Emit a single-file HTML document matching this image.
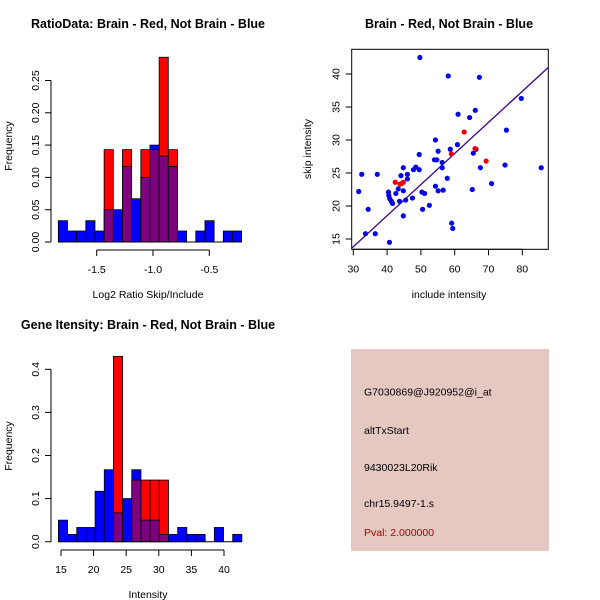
<!DOCTYPE html>
<html><head><meta charset="utf-8"><style>
body{margin:0;background:#fff}
svg{display:block;font-family:"Liberation Sans",sans-serif}
.t{font-weight:bold;font-size:12.5px}
.ax{font-size:10.5px}
.lab{font-size:10.5px}
</style></head><body>
<svg id="s" width="600" height="600" xmlns="http://www.w3.org/2000/svg"></svg>
<script>
// Ratio histogram data
const ratioBlue=[0.033,0.017,0.017,0.033,0.017,0.05,0.05,0.117,0.067,0.1,0.15,0.133,0.117,0.017,0,0.017,0.033,0,0.017,0.017];
const ratioRed=[0,0,0,0,0,0.143,0,0.143,0,0.143,0.143,0.286,0.143,0,0,0,0,0,0,0];
const ratioStart=-1.841, ratioBin=0.0814;
const ratioXTicks=[-1.5,-1.0,-0.5];
const ratioYTicks=[0,0.05,0.10,0.15,0.20,0.25];
// Intensity histogram data
const intBlue=[0.05,0.017,0.033,0.033,0.117,0.167,0.067,0.1,0.167,0.05,0.05,0.017,0.017,0.033,0.017,0.017,0,0.033,0,0.017];
const intRed=[0,0,0,0,0,0,0.43,0,0.143,0.143,0.143,0.143,0,0,0,0,0,0,0,0];
const intStart=14.6, intBin=1.407;
const intXTicks=[15,20,25,30,35,40];
const intYTicks=[0,0.1,0.2,0.3,0.4];
// Scatter data
const blueX=[49.7,58.1,67.3,79.7,61.0,66.1,64.4,75.3,54.3,60.8,58.7,55.1,66.3,65.5,49.5,54.0,54.7,56.3,56.3,67.6,74.9,85.6,44.8,48.5,47.8,49.5,46.0,44.1,46.0,32.5,37.1,57.8,70.9,54.3,65.2,43.3,44.8,55.1,56.6,40.4,42.6,50.3,51.1,40.5,31.6,40.8,41.3,41.6,43.7,45.5,47.5,52.5,50.5,34.4,44.8,59.1,59.4,33.6,36.5,40.7];
const blueY=[42.5,39.7,39.5,36.3,33.9,34.5,33.4,31.5,30.0,29.3,28.6,28.3,28.6,28.0,27.8,27.0,27.0,26.6,25.8,25.8,26.2,25.8,25.8,25.9,25.5,25.5,24.8,24.6,24.1,24.8,24.8,24.2,23.4,23.0,22.5,22.6,22.3,22.3,22.4,22.1,21.9,22.1,21.9,21.6,22.2,21.1,20.7,20.4,20.7,20.9,21.2,20.1,19.5,19.5,18.5,17.4,16.6,15.8,15.8,14.5];
const redX=[42.4,43.8,44.8,44.3,59.0,62.8,69.3,66.0];
const redY=[23.6,23.3,23.6,23.4,27.9,31.2,26.8,28.7];
const scXTicks=[30,40,50,60,70,80];
const scYTicks=[15,20,25,30,35,40];
const fitSlope=0.471, fitIntercept=-0.3;

const S=document.getElementById('s');
const NS='http://www.w3.org/2000/svg';
function mk(tag,attrs,parent){const e=document.createElementNS(NS,tag);for(const k in attrs)e.setAttribute(k,attrs[k]);(parent||S).appendChild(e);return e;}
function txt(x,y,s,cls,extra){const e=mk('text',Object.assign({x:x,y:y,'class':cls||'ax','text-anchor':'middle'},extra||{}));e.textContent=s;return e;}

function hist(cfg){
  const g=mk('g',{});
  
  
  const xs=v=>cfg.x0+(v-cfg.xv0)*cfg.xk;
  const ys=v=>cfg.y0-v*cfg.yk;
  for(let i=0;i<cfg.blue.length;i++){
    const a=xs(cfg.start+i*cfg.bin), b=xs(cfg.start+(i+1)*cfg.bin);
    const bv=cfg.blue[i], rv=cfg.red[i], m=Math.min(bv,rv);
    const mx=Math.max(bv,rv);
    if(mx<=0) continue;
    const top=bv>=rv?'#0000ff':'#ff0000';
    let r=mk('rect',{x:a,y:ys(mx),width:b-a,height:ys(0)-ys(mx),fill:top,stroke:'#000','stroke-width':0.8},g);
    
    
    if(m>0){
      let p=mk('rect',{x:a,y:ys(m),width:b-a,height:ys(0)-ys(m),fill:'#7f007f',stroke:'#000','stroke-width':0.8},g);
      
      
    }
  }
  const yt=cfg.yticks;
  mk('line',{x1:cfg.yAxisX,x2:cfg.yAxisX,y1:ys(yt[0]),y2:ys(yt[yt.length-1]),stroke:'#000'},g);
  yt.forEach(v=>{mk('line',{x1:cfg.yAxisX-6,x2:cfg.yAxisX,y1:ys(v),y2:ys(v),stroke:'#000'},g);
    txt(cfg.yAxisX-12,ys(v),cfg.yfmt(v),'ax',{transform:`rotate(-90 ${cfg.yAxisX-12} ${ys(v)})`});});
  const xt=cfg.xticks;
  mk('line',{x1:xs(xt[0]),x2:xs(xt[xt.length-1]),y1:cfg.xAxisY,y2:cfg.xAxisY,stroke:'#000'},g);
  xt.forEach(v=>{mk('line',{x1:xs(v),x2:xs(v),y1:cfg.xAxisY,y2:cfg.xAxisY+6,stroke:'#000'},g);
    txt(xs(v),cfg.xAxisY+23,cfg.xfmt(v),'ax');});
  mk('line',{x1:xs(cfg.start),x2:xs(cfg.start+cfg.blue.length*cfg.bin),y1:ys(0),y2:ys(0),stroke:'#000','stroke-width':1},g);
}

txt(148,28,'RatioData: Brain - Red, Not Brain - Blue','t',{});
hist({name:'ratio-histogram',blue:ratioBlue,red:ratioRed,start:ratioStart,bin:ratioBin,
  x0:96.7,xv0:-1.5,xk:112.6,y0:242,yk:646,xticks:ratioXTicks,yticks:ratioYTicks,
  yAxisX:51,xAxisY:250,xfmt:v=>v.toFixed(1),yfmt:v=>v.toFixed(2)});
txt(148,298,'Log2 Ratio Skip/Include','lab',{});
txt(12,146,'Frequency','lab',{transform:'rotate(-90 12 146)',});

txt(148,329,'Gene Itensity: Brain - Red, Not Brain - Blue','t',{});
hist({name:'intensity-histogram',blue:intBlue,red:intRed,start:intStart,bin:intBin,
  x0:61,xv0:15,xk:6.52,y0:541.7,yk:431,xticks:intXTicks,yticks:intYTicks,
  yAxisX:51,xAxisY:550,xfmt:v=>String(v),yfmt:v=>v===0?'0.0':String(v)});
txt(148,598,'Intensity','lab',{});
txt(12,446,'Frequency','lab',{transform:'rotate(-90 12 446)',});

(function(){
  const g=mk('g',{});
  
  
  const L=351.7,R=548.3,T=49.3,B=249.3;
  const xs=v=>353.3+(v-30)*3.38;
  const ys=v=>239-(v-15)*6.6;
  txt(449,28,'Brain - Red, Not Brain - Blue','t',{});
  mk('defs',{},g).innerHTML='<clipPath id="cp"><rect x="'+L+'" y="'+T+'" width="'+(R-L)+'" height="'+(B-T)+'"/></clipPath>';
  const x1=20,x2=95;
  const ln=mk('line',{x1:xs(x1),y1:ys(fitSlope*x1+fitIntercept),x2:xs(x2),y2:ys(fitSlope*x2+fitIntercept),stroke:'#3a0090','stroke-width':1.3,'clip-path':'url(#cp)'},g);
  
  
  blueX.forEach((v,i)=>{const c=mk('circle',{cx:xs(v),cy:ys(blueY[i]),r:2.6,fill:'#0000ee'},g);
    
    });
  redX.forEach((v,i)=>{const c=mk('circle',{cx:xs(v),cy:ys(redY[i]),r:2.6,fill:'#ee0000'},g);
    
    });
  mk('rect',{x:L,y:T,width:R-L,height:B-T,fill:'none',stroke:'#000'},g);
  mk('line',{x1:xs(30),x2:xs(80),y1:B,y2:B,stroke:'#000'},g);
  scXTicks.forEach(v=>{mk('line',{x1:xs(v),x2:xs(v),y1:B,y2:B+6,stroke:'#000'},g);txt(xs(v),B+23,String(v));});
  scYTicks.forEach(v=>{mk('line',{x1:L-6,x2:L,y1:ys(v),y2:ys(v),stroke:'#000'},g);
    txt(L-12,ys(v),String(v),'ax',{transform:`rotate(-90 ${L-12} ${ys(v)})`});});
  txt(449,298,'include intensity','lab',{});
  txt(311,149,'skip intensity','lab',{transform:'rotate(-90 311 149)',});
})();

(function(){
  const g=mk('g',{});
  
  
  mk('rect',{x:351,y:349,width:198,height:202,fill:'#e5c8c2'},g);
  const lines=['G7030869@J920952@i_at','altTxStart','9430023L20Rik','chr15.9497-1.s'];
  const yy=[395.5,434,471,507];
  lines.forEach((s,i)=>{const t=mk('text',{x:364,y:yy[i],'font-size':'10.5px',fill:'#000'},g);t.textContent=s;
    
    });
  const p=mk('text',{x:364,y:536,'font-size':'10.5px',fill:'#aa0000'},g);p.textContent='Pval: 2.000000';
  
  
})();
</script>
</body></html>
